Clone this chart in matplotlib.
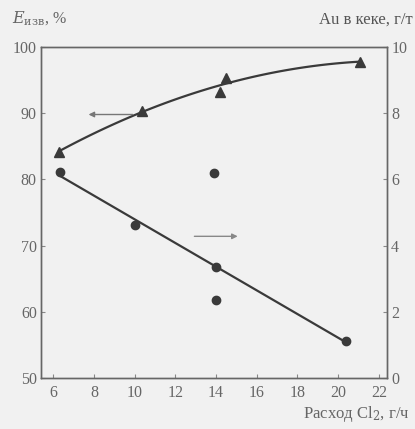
import numpy as np
import matplotlib
matplotlib.use('Agg')
import matplotlib.pyplot as plt

plt.rcParams['font.family'] = ['Liberation Serif', 'DejaVu Serif']
plt.rcParams['mathtext.fontset'] = 'dejavuserif'

# Извлечение золота, % (треугольники, левая ось)
cl_extr = [6.3, 10.35, 14.2, 14.5, 21.05]
e_extr = [84.2, 90.4, 93.2, 95.3, 97.8]

# Содержание Au в кеке, г/т (кружки, правая ось)
cl_cake = [6.35, 10.0, 13.9, 14.0, 14.0, 20.4]
au_cake = [6.23, 4.62, 6.18, 3.36, 2.36, 1.12]
# точки, по которым проведена прямая (без выбросов)
fit_idx = [0, 1, 3, 5]

x_ticks = [6, 8, 10, 12, 14, 16, 18, 20, 22]
y_ticks = [50, 60, 70, 80, 90, 100]
y2_ticks = [0, 2, 4, 6, 8, 10]

ink = '#3a3a3a'
bg = '#f1f1f1'

fig = plt.figure(figsize=(4.15, 4.29), dpi=100, facecolor=bg)
ax = fig.add_axes([0.0988, 0.1189, 0.8337, 0.7716], facecolor=bg)
ax2 = ax.twinx()

# кривая извлечения
c2 = np.polyfit(cl_extr, e_extr, 2)
xs = np.linspace(cl_extr[0], cl_extr[-1], 100)
ax.plot(xs, np.polyval(c2, xs), color=ink, lw=1.6)
ax.plot(cl_extr, e_extr, '^', color=ink, ms=7)

# прямая для Au в кеке
xf = np.array(cl_cake)[fit_idx]
yf = np.array(au_cake)[fit_idx]
c1 = np.polyfit(xf, yf, 1)
xl = np.array([cl_cake[0], cl_cake[-1]])
ax2.plot(xl, np.polyval(c1, xl), color=ink, lw=1.6)
ax2.plot(cl_cake, au_cake, 'o', color=ink, ms=6)

ax.set_xlim(5.4, 22.4)
ax.set_ylim(50, 100)
ax2.set_ylim(0, 10)
ax.set_xticks(x_ticks)
ax.set_yticks(y_ticks)
ax2.set_yticks(y2_ticks)

for a in (ax, ax2):
    a.tick_params(direction='in', length=3, width=0.8, colors='#888888',
                  labelcolor='#666666', labelsize=11.5)
    for s in a.spines.values():
        s.set_color('#666666')
        s.set_linewidth(1.0)
ax.tick_params(axis='x', pad=5)
ax.tick_params(axis='y', pad=3)
ax2.tick_params(axis='y', pad=3)

# стрелки-указатели осей
ax.annotate('', xy=(7.6, 89.8), xytext=(10.05, 89.8),
            arrowprops=dict(arrowstyle='-|>', color='#777777', lw=1.0, mutation_scale=8))
ax.annotate('', xy=(15.2, 71.4), xytext=(12.8, 71.4),
            arrowprops=dict(arrowstyle='-|>', color='#888888', lw=1.0, mutation_scale=8))

fig.text(0.03, 0.957, r'$E_{\mathrm{изв}}$, %', fontsize=11.5, color='#666666', va='center')
fig.text(0.995, 0.955, 'Au в кеке, г/т', fontsize=12, color='#555555', ha='right', va='center')
fig.text(0.988, 0.035, r'Расход Cl$_2$, г/ч', fontsize=12, color='#666666', ha='right', va='center')

fig.savefig('out.png', dpi=100, facecolor=bg)
